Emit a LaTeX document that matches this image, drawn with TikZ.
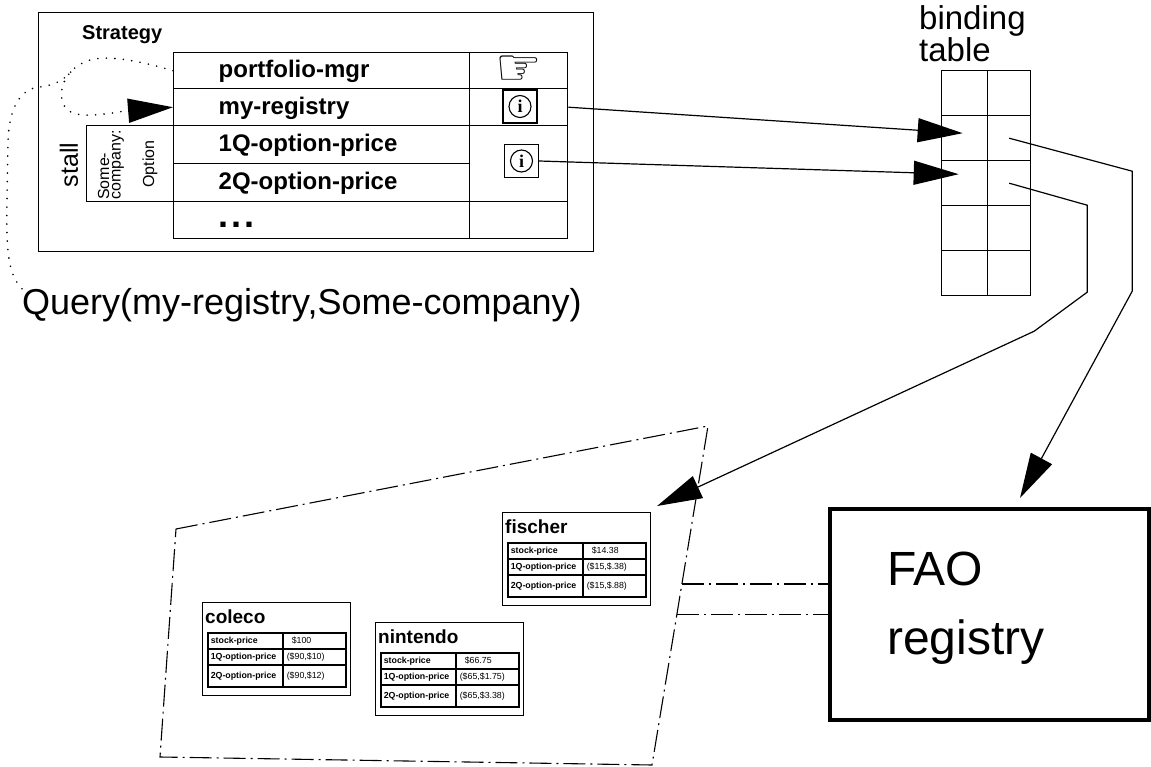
\documentclass[tikz,border=0pt]{standalone}
\usepackage{fontspec}
\setmainfont{Liberation Sans}
\newfontfamily\handfont{DejaVu Sans}
\newfontfamily\serifi{Liberation Serif}
\usetikzlibrary{positioning, arrows.meta, calc}
\newcommand{\fsz}[1]{\fontsize{#1}{#1}\selectfont}
\tikzset{
cell/.style={
  rectangle,
  draw,
  line width=1.4pt,
  anchor=north west,
  inner sep=0pt,
 },
line/.style={draw, line width=1.2pt, ->},
dotline/.style={draw, line width=1.8pt, line cap=round, dash pattern=on 0pt off 8.5pt},
dashdot/.style={draw, line width=1.1pt, dash pattern=on 22pt off 5pt on 2pt off 5pt},
>={Triangle[length=45pt,width=24pt]}
}
% a firm in the registry: name, x, y, then its three prices
\newcommand{\company}[6]{
 \begin{scope}[shift={(#2,#3)}]
 \node[cell, line width=1.1pt, minimum width=148pt, minimum height=93pt] (#1) at (0,0) {};
 \node[anchor=base west, inner sep=0pt, font=\bfseries\fsz{19}] (#1-name) at (3,21) {#1};
 \node[colabel, minimum height=16pt] (#1-l1) at (5,30) {stock-price};
 \node[colabel, minimum height=16pt] (#1-l2) at (5,46) {1Q-option-price};
 \node[colabel, minimum height=22pt] (#1-l3) at (5,62) {2Q-option-price};
 \node[coval, minimum height=16pt] (#1-v1) at (80,30) {\hspace*{5pt}#4};
 \node[coval, minimum height=16pt] (#1-v2) at (80,46) {#5};
 \node[coval, minimum height=22pt] (#1-v3) at (80,62) {#6};
 \end{scope}
}

\begin{document}
\begin{tikzpicture}[x=1pt, y=-1pt,
slot/.style={cell, minimum width=296pt, text width=206pt, inner xsep=45pt, align=left,
  text height=18pt, text depth=4pt, font=\bfseries\fsz{24}},
slotside/.style={cell, minimum width=98pt},
infobox/.style={draw, line width=1.2pt, minimum width=34pt, minimum height=33pt, inner sep=0pt},
infocirc/.style={circle, draw, line width=1.1pt, minimum size=22pt, inner sep=0pt, font=\serifi\bfseries\fsz{18}},
colabel/.style={cell, line width=1.6pt, minimum width=75pt, text width=69pt, inner xsep=3pt, align=left, font=\bfseries\fsz{8.8}},
coval/.style={cell, line width=1.6pt, minimum width=63pt, text width=55pt, inner xsep=4pt, align=left, font=\fsz{8.8}}]
 \useasboundingbox (0,0) rectangle (1151,767);

 % strategy with its slots
 \node[cell, minimum width=555pt, minimum height=239pt] (strategy) at (38,12) {};
 \node[anchor=base west, inner sep=0pt, font=\bfseries\fsz{20}] (strategylabel) at (82,40) {Strategy};
 \foreach \n/\y/\h/\txt in {pm/52/36pt/portfolio-mgr, reg/88/37pt/my-registry, q1/125/38pt/1Q-option-price,
   q2/163/38pt/2Q-option-price, more/201/37pt/{\fsz{36}.\kern3pt.\kern3pt.}}
 \node[slot, minimum height=\h] (\n) at (173,\y) {\txt};
 \node[slotside, minimum height=36pt, font=\handfont\fsz{52}] (pmside) at (469,52) {☞};
 \node[slotside, minimum height=37pt] (regside) at (469,88) {};
 \node[slotside, minimum height=76pt] (qside) at (469,125) {};
 \node[slotside, minimum height=37pt] (moreside) at (469,201) {};
 \node[infobox] (icon1) at (520,106.5) {};
 \node[infocirc] (icon1c) at (icon1) {i};
 \node[infobox] (icon2) at (521.5,161) {};
 \node[infocirc] (icon2c) at (icon2) {i};

 \node[cell, minimum width=87pt, minimum height=76pt] (stallbox) at (86,125) {};
 \node[rotate=90, anchor=west, align=left, inner sep=0pt, font={\fontsize{16}{11.5}\selectfont}] (firm) at (111,200) {Some-\\company:};
 \node[rotate=90, inner sep=0pt, font=\fsz{16}] (kind) at (150,164) {Option};
 \node[rotate=90, inner sep=0pt, font=\fsz{25}] (stall) at (69,165) {stall};

 \node[anchor=base west, inner sep=0pt, font=\fsz{36}] (query) at (22,315) {Query(my-registry,Some-company)};
 \draw[dotline, ->] (pm.west) .. controls (130,58) and (105,56) .. (90,60) .. controls (65,68) and (58,90) .. (63,103)
   .. controls (68,118) and (90,117) .. (125,111) -- (reg.west);
 \draw[dotline] (query.north west) .. controls (8,275) and (6,250) .. (7,200) -- (8,140)
   .. controls (10,100) and (25,88) .. (40,87) .. controls (55,85) and (65,80) .. (74,68);

 % binding table
 \node[anchor=north west, inner sep=0pt, align=left, font={\fontsize{33}{32}\selectfont}] (bindlabel) at (919,5) {binding\\table};
 \foreach \i in {1,...,5}{
 \node[cell, minimum width=46pt, minimum height=45pt] (bl\i) at (941,{70+(\i-1)*45}) {};
 \node[cell, minimum width=43pt, minimum height=45pt] (br\i) at (987,{70+(\i-1)*45}) {};
 }
 \draw[line] (regside.east) -- ([xshift=-2pt,yshift=5pt]bl2.center);
 \draw[line] (icon2.east) -- ([xshift=-6pt,yshift=9pt]bl3.center);

 % registry
 \node[cell, line width=4pt, minimum width=319pt, minimum height=211pt] (fao) at (828,507) {};
 \node[anchor=north west, inner sep=0pt, align=left, font={\fontsize{48}{69}\selectfont}] (faolabel) at (887,552) {FAO\\registry};
 \coordinate (faotip) at (1020,498);

 \company{coleco}{202}{602}{\$100}{(\$90,\$10)}{(\$90,\$12)}
 \company{nintendo}{375}{622}{\$66.75}{(\$65,\$1.75)}{(\$65,\$3.38)}
 \company{fischer}{502}{512}{\$14.38}{(\$15,\$.38)}{(\$15,\$.88)}

 \coordinate (pTL) at (176,529);
 \coordinate (pTR) at (708,426);
 \coordinate (pBR) at (652,765);
 \coordinate (pBL) at (160,757);
 \draw[dashdot] (pTL) -- (pTR) -- (pBR) -- (pBL) -- cycle;
 \coordinate (fc1) at ($(pTR)!0.466!(pBR)$);
 \coordinate (fc2) at ($(pTR)!0.557!(pBR)$);
 \draw[dashdot] (fc1) -- (fc1 -| fao.west);
 \draw[dashdot] (fc2) -- (fc2 -| fao.west);

 \draw[line] (br2.center) -- ++(123,33) -- ++(0,120) -- (faotip);
 \draw[line] (br3.center) -- ++(78,22) -- ++(0,87) -- ++(-53,39) -- ([xshift=6pt,yshift=6pt]fischer.north east);
\end{tikzpicture}
\end{document}
